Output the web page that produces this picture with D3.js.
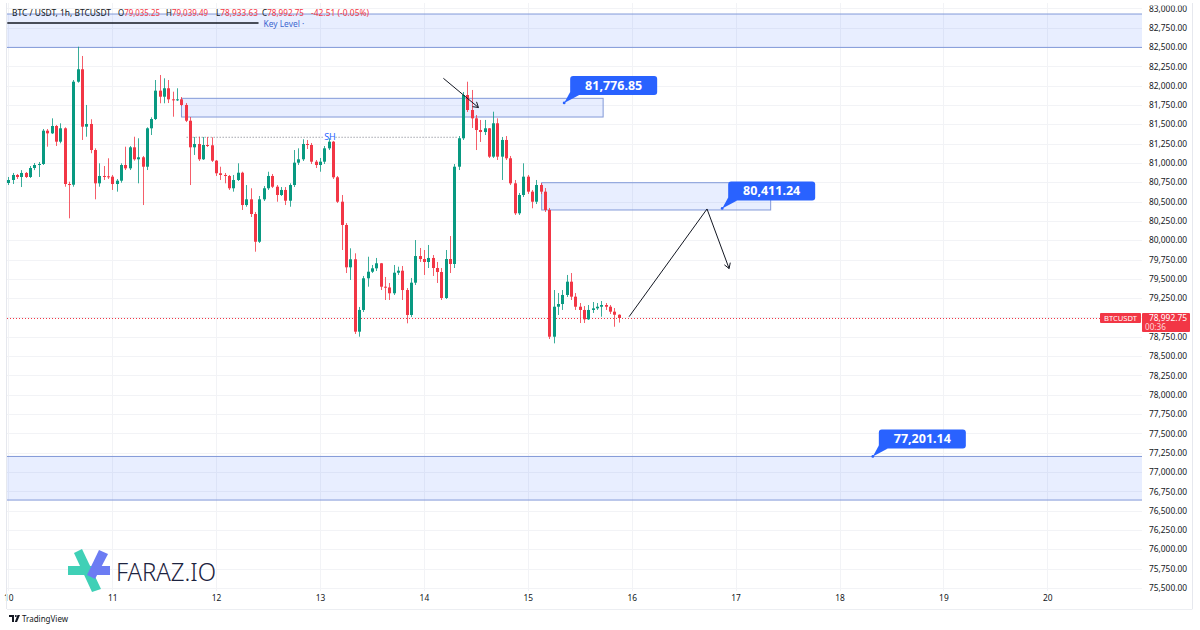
<!DOCTYPE html>
<html>
<head>
<meta charset="utf-8">
<script src="https://cdn.jsdelivr.net/npm/d3@7"></script>
<style>
body { margin: 0; background: #fff; }
svg { display: block; font-family: 'Noto Sans', sans-serif; }
</style>
</head>
<body>
<div id="chart"></div>
<script>
// ---- data (BTC/USDT 1h, from Apr 10 00:00) ----
var firstOpen = 80740;
var closes = [80779,80844,80818,80870,80818,80934,80973,80986,81417,81383,
  81478,81275,81448,80727,80718,82051,82212,81469,81504,81167,
  80736,80831,80827,80822,80727,80770,80973,80930,81202,81047,
  81073,80951,81448,81568,81935,81857,81966,81823,81821,81823,
  81750,81546,81202,81245,81047,81232,81228,81029,80866,80844,
  80831,80672,80779,80873,80455,80529,80339,79980,80529,80672,
  80831,80692,80585,80650,80511,80714,81003,81047,81245,81232,
  81016,80973,81016,81189,81275,80814,80498,80197,79649,79753,
  78816,79097,79507,79592,79636,79701,79398,79388,79313,79579,
  79605,79355,79032,79450,79795,79756,79718,79770,79640,79588,
  79252,79756,79692,80951,81319,81879,81685,81577,81426,81400,
  81448,81081,81513,81081,81297,81060,80736,80348,80585,80822,
  80628,80498,80714,80628,80391,78751,79139,79174,79291,79463,
  79269,79139,79097,78976,79097,79118,79139,79161,79139,79075,
  79035.25,78992.75];
var highs = [80818,80870,80857,80907,80882,80960,80999,81012,81439,81439,
  81577,81491,81513,81461,80757,82073,82504,82384,81750,81565,
  81189,80995,80960,81060,80844,80792,80995,81210,81219,81339,
  81319,81090,81461,81590,82073,82138,82095,82073,81922,81966,
  81853,81775,81594,81336,81339,81336,81336,81332,81038,80951,
  80870,80844,80844,80995,80886,80714,80672,80365,80572,80701,
  80886,80857,80714,80688,80688,80736,81167,81189,81306,81297,
  81258,81038,81064,81219,81319,81284,80831,80585,80222,79895,
  79830,79136,79537,79786,79679,79770,79705,79524,79446,79679,
  79657,79666,79381,79511,80002,79899,79873,79938,79808,79718,
  79640,79873,80054,80986,81348,81918,82051,81944,81620,81556,
  81556,81452,81663,81577,81336,81348,81090,80779,80611,80995,
  80844,80650,80779,80740,80675,80417,79355,79316,79355,79550,
  79575,79316,79187,79148,79161,79200,79187,79213,79187,79161,
  79122,79039.49];
var lows = [80714,80727,80792,80688,80805,80805,80907,80818,80973,81210,
  81374,81219,81254,80692,80283,80692,82038,81297,81339,81125,
  80529,80692,80779,80792,80650,80628,80744,80908,80908,81029,
  80736,80455,80908,81361,81556,81772,81772,81775,81598,81801,
  81737,81529,80714,81103,81025,81038,81206,81012,80831,80779,
  80736,80650,80628,80766,80391,80433,80300,79851,79964,80507,
  80650,80675,80498,80572,80455,80433,80688,80973,81025,81180,
  80986,80934,80886,80986,81167,80792,80481,79873,79575,79485,
  78786,78751,79071,79398,79575,79601,79355,79226,79226,79291,
  79550,79226,78924,79006,79420,79718,79550,79640,79537,79446,
  79226,79239,79575,79640,80908,81297,81659,81452,81167,81271,
  81361,81064,81064,81038,80779,81038,80714,80326,80326,80559,
  80598,80413,80468,80598,80365,78721,78665,79032,79097,79265,
  79226,79097,78928,78928,78967,79058,79097,79010,79097,79045,
  78880,78933.63];

var priceTicks = [83000,82750,82500,82250,82000,81750,81500,81250,81000,80750,80500,80250,
  80000,79750,79500,79250,79000,78750,78500,78250,78000,77750,77500,77250,77000,76750,
  76500,76250,76000,75750,75500];
var dayLabels = ["10","11","12","13","14","15","16","17","18","19","20"];

// drawings: [startHour, endHour, lowPrice, highPrice]
var zones = [
  [-1, 263, 82495, 82927],
  [40, 137.4, 81594, 81836],
  [123.2, 176.1, 80391, 80744],
  [-1, 263, 76637, 77201.14]
];
// callouts: [hour, price]
var calloutHours = [128.4, 164.9, 199.7];
var calloutPrices = [81776.85, 80411.24, 77201.14];
var swingHigh = [41.2, 103.7, 81332];
var arrowA = [[100.5, 82095], [108.6, 81717]];
var projection = [[143.4, 79010], [161.4, 80404], [166.5, 79633]];
var keyLine = [0, 57.8, 82810];

var headerLabels = ["O", "H", "L", "C"];
var headerValues = ["79,035.25", "79,039.49", "78,933.63", "78,992.75"];
var headerChange = "-42.51 (-0.05%)";
var lastPrice = 78992.75;

var GREEN = "#089981", RED = "#f23645", BLUE = "#2962ff";

// ---- setup ----
var W = 1200, H = 630;
var plot = {l: 7, r: 1142, t: 3, b: 591};
var t0 = Date.UTC(2025, 3, 10, 0);
function at(h) { return new Date(t0 + h * 3600e3); }

var x = d3.scaleUtc().domain([at(0), at(240)]).range([8.3, 1047.3]);
var y = d3.scaleLinear().domain([75500, 82750]).range([587.9, 27.7]);

var candles = closes.map(function(c, i) {
  return {t: at(i), o: i === 0 ? firstOpen : closes[i - 1], h: highs[i], l: lows[i], c: c};
});

var svg = d3.select("#chart").append("svg").attr("width", W).attr("height", H);
svg.append("rect").attr("width", W).attr("height", H).attr("fill", "#fff");

var defs = svg.append("defs");
defs.append("clipPath").attr("id", "plotclip").append("rect")
  .attr("x", plot.l).attr("y", plot.t).attr("width", plot.r - plot.l).attr("height", plot.b - plot.t);
defs.append("clipPath").attr("id", "axisclip").append("rect")
  .attr("x", plot.r).attr("y", 5.5).attr("width", 60).attr("height", plot.b - 2);

// grid
var grid = svg.append("g").attr("clip-path", "url(#plotclip)");
grid.selectAll(".hg").data(priceTicks).enter().append("line")
  .attr("x1", plot.l).attr("x2", plot.r)
  .attr("y1", function(d) { return Math.round(y(d)) + 0.5; })
  .attr("y2", function(d) { return Math.round(y(d)) + 0.5; })
  .attr("stroke", "#f2f3f6");
grid.selectAll(".vg").data(dayLabels).enter().append("line")
  .attr("y1", plot.t).attr("y2", plot.b)
  .attr("x1", function(d, i) { return Math.round(x(at(24 * i))) + 0.5; })
  .attr("x2", function(d, i) { return Math.round(x(at(24 * i))) + 0.5; })
  .attr("stroke", "#f2f3f6");

var g = svg.append("g").attr("clip-path", "url(#plotclip)");

// zones
g.selectAll(".zone").data(zones).enter().append("rect")
  .attr("x", function(d) { return x(at(d[0])); })
  .attr("width", function(d) { return x(at(d[1])) - x(at(d[0])); })
  .attr("y", function(d) { return y(d[3]); })
  .attr("height", function(d) { return y(d[2]) - y(d[3]); })
  .attr("fill", "rgba(41,98,255,0.11)")
  .attr("stroke", "#8299d8").attr("stroke-width", 1);

// swing high dotted line
var shY = y(swingHigh[2]);
g.append("line").attr("x1", x(at(swingHigh[0]))).attr("x2", x(at(72.6)))
  .attr("y1", shY).attr("y2", shY).attr("stroke", "#787b86").attr("stroke-dasharray", "1,2");
g.append("line").attr("x1", x(at(75.6))).attr("x2", x(at(swingHigh[1])))
  .attr("y1", shY).attr("y2", shY).attr("stroke", "#787b86").attr("stroke-dasharray", "1,2");
g.append("text").attr("x", x(at(74.3))).attr("y", shY + 3).attr("text-anchor", "middle")
  .attr("font-size", 9).attr("fill", BLUE).text("SH");

// last price dotted line
g.append("line").attr("x1", plot.l).attr("x2", 1100)
  .attr("y1", Math.round(y(lastPrice)) + 0.5).attr("y2", Math.round(y(lastPrice)) + 0.5)
  .attr("stroke", RED).attr("stroke-dasharray", "1,2");

// candles
var cg = g.append("g");
cg.selectAll(".wick").data(candles).enter().append("line")
  .attr("x1", function(d) { return Math.round(x(d.t)) + 0.5; })
  .attr("x2", function(d) { return Math.round(x(d.t)) + 0.5; })
  .attr("y1", function(d) { return y(d.h); })
  .attr("y2", function(d) { return y(d.l); })
  .attr("stroke", function(d) { return d.c >= d.o ? GREEN : RED; })
  .attr("stroke-opacity", 0.8);
cg.selectAll(".body").data(candles).enter().append("rect")
  .attr("x", function(d) { return Math.round(x(d.t)) - 1; })
  .attr("width", 3)
  .attr("y", function(d) { return y(Math.max(d.o, d.c)); })
  .attr("height", function(d) { return Math.max(1, Math.abs(y(d.o) - y(d.c))); })
  .attr("fill", function(d) { return d.c >= d.o ? GREEN : RED; });

// arrows
function arrowHead(sel, p, e) {
  var a = Math.atan2(e[1] - p[1], e[0] - p[0]), L = 6, s = 0.55;
  sel.append("path")
    .attr("d", "M" + (e[0] - L * Math.cos(a - s)) + "," + (e[1] - L * Math.sin(a - s)) +
      "L" + e[0] + "," + e[1] +
      "L" + (e[0] - L * Math.cos(a + s)) + "," + (e[1] - L * Math.sin(a + s)))
    .attr("fill", "none").attr("stroke", "#131722").attr("stroke-width", 1);
}
var ptA = arrowA.map(function(d) { return [x(at(d[0])), y(d[1])]; });
g.append("path").attr("d", d3.line()(ptA)).attr("fill", "none").attr("stroke", "#131722").attr("stroke-width", 1);
arrowHead(g, ptA[0], ptA[1]);
var ptP = projection.map(function(d) { return [x(at(d[0])), y(d[1])]; });
g.append("path").attr("d", d3.line()(ptP)).attr("fill", "none").attr("stroke", "#131722").attr("stroke-width", 1);
arrowHead(g, ptP[1], ptP[2]);

// key level line
var kY = y(keyLine[2]);
g.append("line").attr("x1", x(at(keyLine[0])) - 1).attr("x2", x(at(keyLine[1])))
  .attr("y1", kY).attr("y2", kY).attr("stroke", "#131722").attr("stroke-width", 1.5);
g.append("text").attr("x", x(at(keyLine[1])) + 5).attr("y", kY + 4)
  .attr("font-size", 8.4).attr("fill", "#3d66cf").text("Key Level \u00b7");

// callouts
calloutHours.forEach(function(h, i) {
  var ax = x(at(h)), ay = y(calloutPrices[i]);
  var bx = ax + 6, by = ay - 27, bw = 87, bh = 19;
  var cgp = g.append("g");
  cgp.append("path")
    .attr("d", "M" + bx + "," + (by + bh - 3) + "L" + ax + "," + ay + "L" + (bx + 9) + "," + (by + bh) + "Z")
    .attr("fill", BLUE);
  cgp.append("rect").attr("x", bx).attr("y", by).attr("width", bw).attr("height", bh).attr("rx", 3).attr("fill", BLUE);
  cgp.append("circle").attr("cx", ax).attr("cy", ay).attr("r", 1.4).attr("fill", BLUE);
  cgp.append("text").attr("x", bx + bw / 2).attr("y", by + 14).attr("text-anchor", "middle")
    .attr("font-size", 12.5).attr("font-weight", "bold").attr("fill", "#fff")
    .text(d3.format(",.2f")(calloutPrices[i]));
});

// header (symbol, OHLC, change)
var hdrFont = 8.2, hdrY = 15.6;
svg.append("text").attr("x", 12).attr("y", hdrY).attr("font-size", hdrFont).attr("fill", "#131722")
  .attr("textLength", 99).attr("lengthAdjust", "spacingAndGlyphs").text("BTC / USDT, 1h, BTCUSDT");
var hdrX = [118, 166, 216, 262];
headerLabels.forEach(function(lb, i) {
  var t = svg.append("text").attr("x", hdrX[i]).attr("y", hdrY).attr("font-size", hdrFont).attr("fill", "#131722")
    .attr("textLength", 42).attr("lengthAdjust", "spacingAndGlyphs");
  t.append("tspan").text(lb);
  t.append("tspan").attr("fill", RED).text(headerValues[i]);
});
svg.append("text").attr("x", 311).attr("y", hdrY).attr("font-size", hdrFont).attr("fill", RED)
  .attr("textLength", 58).attr("lengthAdjust", "spacingAndGlyphs").text(headerChange);

// axes
var yAxis = d3.axisRight(y).tickValues(priceTicks).tickFormat(d3.format(",.2f")).tickSize(0).tickPadding(0);
var yaWrap = svg.append("g").attr("clip-path", "url(#axisclip)");
yaWrap.append("g").attr("transform", "translate(1187,0)").call(yAxis)
  .call(function(s) { s.select(".domain").remove(); })
  .selectAll("text").attr("text-anchor", "end").attr("font-size", 8.4).attr("fill", "#131722")
  .attr("font-family", "'Noto Sans', sans-serif");

var dayDates = dayLabels.map(function(d, i) { return at(24 * i); });
var xAxis = d3.axisBottom(x).tickValues(dayDates).tickFormat(function(d, i) { return dayLabels[i]; })
  .tickSize(0).tickPadding(4);
svg.append("g").attr("transform", "translate(0," + plot.b + ")").call(xAxis)
  .call(function(s) { s.select(".domain").remove(); })
  .selectAll("text").attr("font-size", 8.4).attr("fill", "#131722")
  .attr("font-family", "'Noto Sans', sans-serif");

// frame lines
svg.append("line").attr("x1", plot.l - 0.5).attr("x2", plot.l - 0.5).attr("y1", plot.t).attr("y2", 609).attr("stroke", "#e6e8ee");
svg.append("line").attr("x1", 1192.5).attr("x2", 1192.5).attr("y1", plot.t).attr("y2", 609).attr("stroke", "#e6e8ee");
svg.append("line").attr("x1", plot.l).attr("x2", 1192.5).attr("y1", 609.5).attr("y2", 609.5).attr("stroke", "#eceef2");

// price labels on axis
var lpY = y(lastPrice);
svg.append("rect").attr("x", 1100).attr("y", lpY - 5).attr("width", 41).attr("height", 10).attr("rx", 1).attr("fill", RED);
svg.append("text").attr("x", 1120.5).attr("y", lpY + 3).attr("text-anchor", "middle").attr("font-size", 7.6)
  .attr("fill", "#fff").text("BTCUSDT");
svg.append("rect").attr("x", 1142).attr("y", lpY - 5).attr("width", 48).attr("height", 19).attr("rx", 1).attr("fill", RED);
svg.append("text").attr("x", 1187).attr("y", lpY + 3).attr("text-anchor", "end").attr("font-size", 8.4)
  .attr("fill", "#fff").text(d3.format(",.2f")(lastPrice));
svg.append("text").attr("x", 1145).attr("y", lpY + 12).attr("font-size", 8.2)
  .attr("fill", "#ffd6da").text("00:36");

// TradingView mark
var tv = svg.append("g").attr("transform", "translate(9,615)");
tv.append("path").attr("d", "M0,0H5V7H3V2H0Z").attr("fill", "#131722");
tv.append("circle").attr("cx", 6.8).attr("cy", 1).attr("r", 1).attr("fill", "#131722");
tv.append("path").attr("d", "M8.5,0H11L8,7H5.8Z").attr("fill", "#131722");
svg.append("text").attr("x", 22).attr("y", 622).attr("font-size", 8).attr("fill", "#131722").text("TradingView");

// FARAZ.IO logo
var lg = svg.append("g");
lg.append("path").attr("d", "M68,566H93L96,575H68Z").attr("fill", "#3fd0b6");
lg.append("path").attr("d", "M74,553L82,549L101,589L92,592Z").attr("fill", "#3fd0b6");
lg.append("path").attr("d", "M99,550L108,554L95,579L87,575Z").attr("fill", "#6c7cf3");
lg.append("path").attr("d", "M94,566H110V575H97Z").attr("fill", "#6c7cf3");
svg.append("text").attr("x", 116).attr("y", 581).attr("font-size", 25).attr("font-weight", 300)
  .attr("fill", "#1d2340").attr("textLength", 100).attr("lengthAdjust", "spacingAndGlyphs").text("FARAZ.IO");
</script>
</body>
</html>
